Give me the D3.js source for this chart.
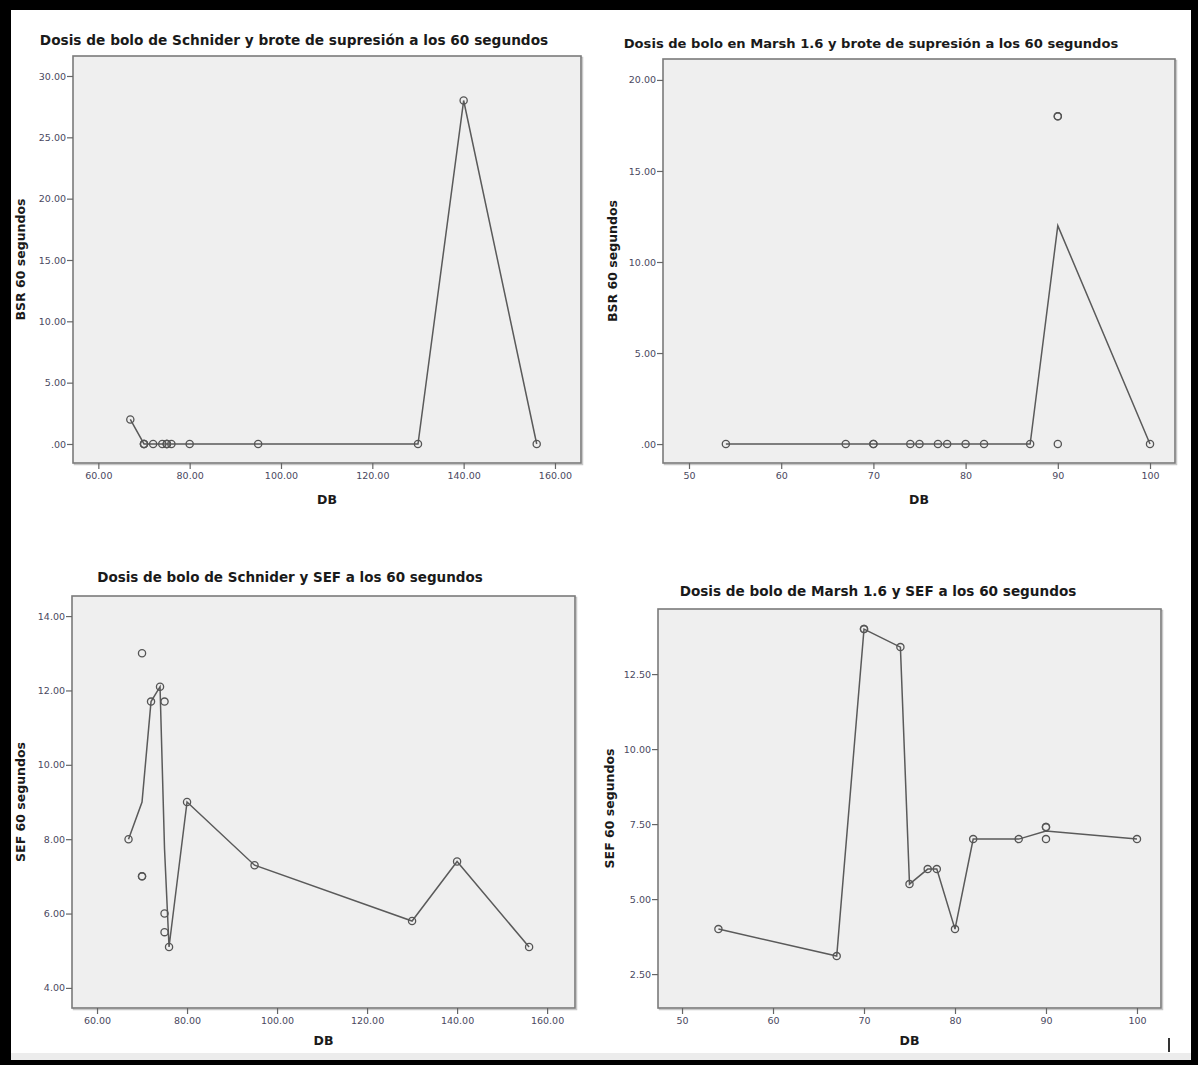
<!DOCTYPE html>
<html>
<head>
<meta charset="utf-8">
<script src="https://cdn.jsdelivr.net/npm/d3@7"></script>
<style>
  html, body { margin: 0; padding: 0; background: #000; }
  svg { display: block; }
</style>
</head>
<body>
<svg id="chart" width="1198" height="1065"></svg>
<script>
// Schnider bolus dose (DB) with BSR and SEF at 60 s
const schniderDB  = [67, 70, 70, 70, 72, 74, 75, 75, 75, 76, 80, 95, 130, 140, 156];
const schniderBSR = [2, 0, 0, 0, 0, 0, 0, 0, 0, 0, 0, 0, 0, 28, 0];
const schniderSEF = [8, 13, 7, 7, 11.7, 12.1, 11.7, 6, 5.5, 5.1, 9, 7.3, 5.8, 7.4, 5.1];

// Marsh 1.6 bolus dose (DB) with BSR and SEF at 60 s
const marshDB  = [54, 67, 70, 70, 74, 75, 77, 78, 80, 82, 87, 90, 90, 90, 100];
const marshBSR = [0, 0, 0, 0, 0, 0, 0, 0, 0, 0, 0, 18, 18, 0, 0];
const marshSEF = [4, 3.1, 14, 14, 13.4, 5.5, 6, 6, 4, 7, 7, 7.4, 7.4, 7, 7];

// Tick values
const schniderXTicks = [60, 80, 100, 120, 140, 160];
const marshXTicks    = [50, 60, 70, 80, 90, 100];
const bsrSchniderTicks = [0, 5, 10, 15, 20, 25, 30];
const bsrMarshTicks    = [0, 5, 10, 15, 20];
const sefSchniderTicks = [4, 6, 8, 10, 12, 14];
const sefMarshTicks    = [2.5, 5, 7.5, 10, 12.5];

// Titles and axis labels
const titles = [
  "Dosis de bolo de Schnider y brote de supresión a los 60 segundos",
  "Dosis de bolo en Marsh 1.6 y brote de supresión a los 60 segundos",
  "Dosis de bolo de Schnider y SEF a los 60 segundos",
  "Dosis de bolo de Marsh 1.6 y SEF a los 60 segundos"
];
const yLabels = ["BSR 60 segundos", "BSR 60 segundos", "SEF 60 segundos", "SEF 60 segundos"];
const xLabel = "DB";

// Number formats: two decimals, leading zero dropped ("0.00" -> ".00")
const fmt2 = v => d3.format(".2f")(v).replace(/^0\./, ".");
const fmtInt = d3.format("d");

const svg = d3.select("#chart");
const FONT = "'DejaVu Sans', Verdana, sans-serif";

// Page frame
svg.append("rect").attr("x", 0).attr("y", 0).attr("width", 1198).attr("height", 1065).attr("fill", "#000");
svg.append("rect").attr("x", 11).attr("y", 10).attr("width", 1180).attr("height", 1050).attr("fill", "#fff");
svg.append("rect").attr("x", 11).attr("y", 1053).attr("width", 1180).attr("height", 7).attr("fill", "#ececec");
svg.append("line").attr("x1", 1169).attr("x2", 1169).attr("y1", 1038).attr("y2", 1052)
  .attr("stroke", "#000").attr("stroke-width", 1.6);

const panels = [
  {
    xs: schniderDB, ys: schniderBSR, title: titles[0], yLabel: yLabels[0],
    box: { left: 73, right: 581, top: 56, bottom: 463 },
    xDomain: [54.45, 165.7], yDomain: [-1.55, 31.63],
    xTicks: schniderXTicks, yTicks: bsrSchniderTicks, xFmt: fmt2, yFmt: fmt2,
    titleX: 294, titleY: 45, titleSize: 13.7, yLabelX: 25, xLabelY: 504
  },
  {
    xs: marshDB, ys: marshBSR, title: titles[1], yLabel: yLabels[1],
    box: { left: 663, right: 1175, top: 59, bottom: 463 },
    xDomain: [47.18, 102.71], yDomain: [-1.04, 21.15],
    xTicks: marshXTicks, yTicks: bsrMarshTicks, xFmt: fmtInt, yFmt: fmt2,
    titleX: 871, titleY: 48, titleSize: 13.1, yLabelX: 617, xLabelY: 504
  },
  {
    xs: schniderDB, ys: schniderSEF, title: titles[2], yLabel: yLabels[2],
    box: { left: 72, right: 575, top: 596, bottom: 1008 },
    xDomain: [54.44, 166.2], yDomain: [3.46, 14.54],
    xTicks: schniderXTicks, yTicks: sefSchniderTicks, xFmt: fmt2, yFmt: fmt2,
    titleX: 290, titleY: 582, titleSize: 13.5, yLabelX: 25, xLabelY: 1045
  },
  {
    xs: marshDB, ys: marshSEF, title: titles[3], yLabel: yLabels[3],
    box: { left: 658, right: 1161, top: 609, bottom: 1008 },
    xDomain: [47.36, 102.64], yDomain: [1.37, 14.67],
    xTicks: marshXTicks, yTicks: sefMarshTicks, xFmt: fmtInt, yFmt: fmt2,
    titleX: 878, titleY: 596, titleSize: 13.6, yLabelX: 614, xLabelY: 1045
  }
];

panels.forEach(p => {
  const g = svg.append("g");
  const b = p.box;
  const x = d3.scaleLinear().domain(p.xDomain).range([b.left, b.right]);
  const y = d3.scaleLinear().domain(p.yDomain).range([b.bottom, b.top]);

  // Title
  g.append("text")
    .attr("x", p.titleX).attr("y", p.titleY)
    .attr("text-anchor", "middle")
    .attr("font-family", FONT).attr("font-weight", "bold").attr("font-size", p.titleSize)
    .attr("fill", "#1a1a1a")
    .text(p.title);

  // Plot background and frame
  g.append("rect")
    .attr("x", b.left + 1.5).attr("y", b.top + 1.5)
    .attr("width", b.right - b.left).attr("height", b.bottom - b.top)
    .attr("fill", "none").attr("stroke", "#c8c8c8").attr("stroke-width", 1.5);
  g.append("rect")
    .attr("x", b.left).attr("y", b.top)
    .attr("width", b.right - b.left).attr("height", b.bottom - b.top)
    .attr("fill", "#efefef").attr("stroke", "#7a7a7a").attr("stroke-width", 1.6);

  // Axes
  const yAxis = d3.axisLeft(y).tickValues(p.yTicks).tickFormat(p.yFmt).tickSize(6).tickPadding(1);
  const xAxis = d3.axisBottom(x).tickValues(p.xTicks).tickFormat(p.xFmt).tickSize(6).tickPadding(3);

  const ya = g.append("g").attr("transform", `translate(${b.left},0)`).call(yAxis);
  const xa = g.append("g").attr("transform", `translate(0,${b.bottom})`).call(xAxis);
  [ya, xa].forEach(a => {
    a.select(".domain").remove();
    a.selectAll(".tick line").attr("stroke", "#666").attr("stroke-width", 1.2);
    a.selectAll(".tick text")
      .attr("font-family", FONT).attr("font-size", 9.5).attr("fill", "#4a4860");
  });

  // Axis titles
  g.append("text")
    .attr("x", (b.left + b.right) / 2).attr("y", p.xLabelY)
    .attr("text-anchor", "middle")
    .attr("font-family", FONT).attr("font-weight", "bold").attr("font-size", 12.5)
    .attr("fill", "#1a1a1a")
    .text(xLabel);
  g.append("text")
    .attr("transform", `translate(${p.yLabelX},${(b.top + b.bottom) / 2}) rotate(-90)`)
    .attr("text-anchor", "middle")
    .attr("font-family", FONT).attr("font-weight", "bold").attr("font-size", 12.5)
    .attr("fill", "#1a1a1a")
    .text(p.yLabel);

  // Interpolation line through the mean at each dose
  const pts = p.xs.map((v, i) => ({ x: v, y: p.ys[i] }));
  const means = d3.rollups(pts, v => d3.mean(v, d => d.y), d => d.x)
    .map(([k, m]) => ({ x: k, y: m }))
    .sort((a, c) => a.x - c.x);
  g.append("path")
    .datum(means)
    .attr("fill", "none").attr("stroke", "#5a5a5a").attr("stroke-width", 1.5)
    .attr("d", d3.line().x(d => x(d.x)).y(d => y(d.y)));

  // Individual observations
  g.selectAll("circle.obs").data(pts).join("circle")
    .attr("class", "obs")
    .attr("cx", d => x(d.x)).attr("cy", d => y(d.y)).attr("r", 3.6)
    .attr("fill", "none").attr("stroke", "#555").attr("stroke-width", 1.3);
});
</script>
</body>
</html>
